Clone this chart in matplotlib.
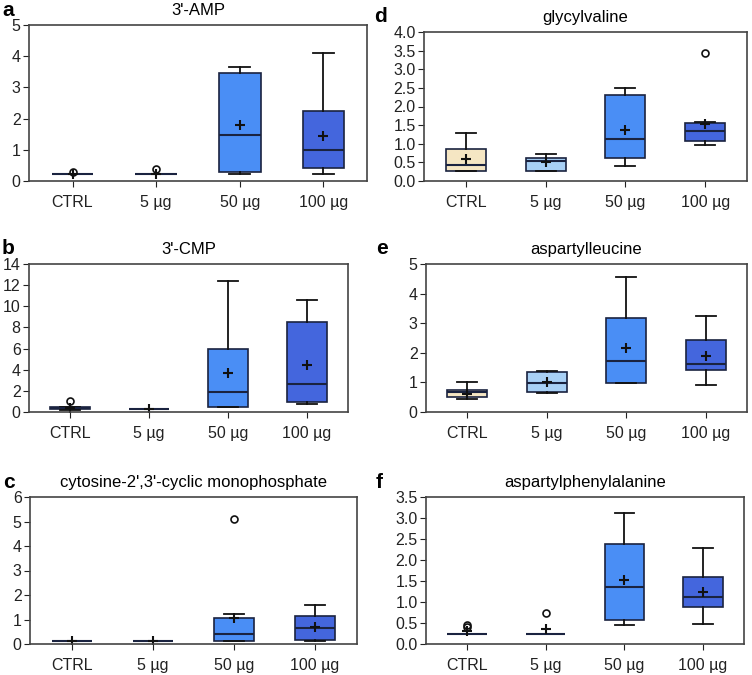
import matplotlib
matplotlib.use('Agg')
import matplotlib.pyplot as plt
import numpy as np

plt.rcParams.update({
    'font.family': ['Liberation Sans', 'DejaVu Sans'],
    'font.size': 11.5,
    'axes.edgecolor': '#444444',
    'axes.linewidth': 1.2,
    'xtick.major.size': 4,
    'ytick.major.size': 4,
    'xtick.color': '#222222',
    'ytick.color': '#222222',
})

groups = ['CTRL', '5 \u00b5g', '50 \u00b5g', '100 \u00b5g']
colors = ['#f5e6c3', '#a8d0f5', '#4a8ef5', '#4466dd']

# per group: whislo, q1, median, q3, whishi, mean
amp = [[0.22, 0.22, 0.22, 0.22, 0.22, 0.24],
       [0.22, 0.22, 0.22, 0.22, 0.22, 0.24],
       [0.22, 0.30, 1.48, 3.45, 3.65, 1.80],
       [0.22, 0.42, 1.00, 2.23, 4.10, 1.45]]
amp_fliers = [[0.29], [0.38], [], []]

cmp3 = [[0.22, 0.28, 0.35, 0.44, 0.45, 0.35],
        [0.25, 0.25, 0.25, 0.25, 0.25, 0.25],
        [0.44, 0.50, 1.89, 5.96, 12.37, 3.69],
        [0.76, 0.95, 2.62, 8.55, 10.57, 4.45]]
cmp3_fliers = [[1.07], [], [], []]

cyclic = [[0.12, 0.12, 0.12, 0.12, 0.12, 0.12],
          [0.12, 0.12, 0.12, 0.12, 0.12, 0.12],
          [0.12, 0.12, 0.41, 1.08, 1.23, 1.05],
          [0.12, 0.15, 0.64, 1.15, 1.60, 0.68]]
cyclic_fliers = [[], [], [5.12], []]

glyval = [[0.28, 0.28, 0.42, 0.85, 1.28, 0.60],
          [0.28, 0.28, 0.55, 0.62, 0.73, 0.50],
          [0.41, 0.62, 1.13, 2.32, 2.49, 1.38],
          [0.97, 1.08, 1.35, 1.57, 1.59, 1.53]]
glyval_fliers = [[], [], [], [3.43]]

aspleu = [[0.43, 0.52, 0.66, 0.74, 1.00, 0.62],
          [0.64, 0.68, 0.99, 1.34, 1.37, 1.00],
          [0.97, 0.97, 1.72, 3.19, 4.55, 2.17],
          [0.90, 1.42, 1.61, 2.44, 3.24, 1.89]]
aspleu_fliers = [[], [], [], []]

aspphe = [[0.25, 0.25, 0.25, 0.25, 0.25, 0.30],
          [0.25, 0.25, 0.25, 0.25, 0.25, 0.36],
          [0.46, 0.57, 1.36, 2.38, 3.13, 1.52],
          [0.47, 0.88, 1.11, 1.60, 2.29, 1.25]]
aspphe_fliers = [[0.45, 0.40], [0.75], [], []]

panels = [
    ('a', "3'-AMP", amp, amp_fliers, 5, 1, '%d', [29, 367, 25, 181]),
    ('b', "3'-CMP", cmp3, cmp3_fliers, 14, 2, '%d', [29, 348, 264, 412]),
    ('c', "cytosine-2',3'-cyclic monophosphate", cyclic, cyclic_fliers, 6, 1, '%d', [30, 357, 497, 644]),
    ('d', 'glycylvaline', glyval, glyval_fliers, 4, 0.5, '%.1f', [424, 747, 32, 181]),
    ('e', 'aspartylleucine', aspleu, aspleu_fliers, 5, 1, '%d', [426, 747, 264, 412]),
    ('f', 'aspartylphenylalanine', aspphe, aspphe_fliers, 3.5, 0.5, '%.1f', [426, 744, 497, 644]),
]

W, H = 752, 675
fig = plt.figure(figsize=(W / 100, H / 100), dpi=100)

for letter, title, stats, fliers, ymax, ystep, fmt, (x0, x1, y0, y1) in panels:
    ax = fig.add_axes([x0 / W, 1 - y1 / H, (x1 - x0) / W, (y1 - y0) / H])
    bstats = []
    for s, fl in zip(stats, fliers):
        bstats.append(dict(whislo=s[0], q1=s[1], med=s[2], q3=s[3],
                           whishi=s[4], mean=s[5], fliers=fl))
    bp = ax.bxp(bstats, positions=np.arange(1, 5), widths=0.5,
                showmeans=True, patch_artist=True, capwidths=0.25,
                boxprops=dict(edgecolor='#1a2340', linewidth=1.2),
                medianprops=dict(color='#1a2340', linewidth=1.5),
                whiskerprops=dict(color='#111111', linewidth=1.3),
                capprops=dict(color='#111111', linewidth=1.3),
                meanprops=dict(marker='+', markeredgecolor='#111111',
                               markersize=7, markeredgewidth=1.5),
                flierprops=dict(marker='o', markerfacecolor='none',
                                markeredgecolor='#111111', markersize=5,
                                markeredgewidth=1.2))
    for patch, c in zip(bp['boxes'], colors):
        patch.set_facecolor(c)

    ax.set_xlim(0.48, 4.52)
    ax.set_ylim(0, ymax)
    ax.set_yticks(np.arange(0, ymax + ystep / 2, ystep))
    ax.yaxis.set_major_formatter(matplotlib.ticker.FormatStrFormatter(fmt))
    ax.set_xticks(np.arange(1, 5))
    ax.set_xticklabels(groups)
    ax.tick_params(axis='y', pad=2)
    ax.tick_params(axis='x', pad=6)
    ax.set_title(title, fontsize=12, pad=7)
    fig.text((x0 - 27) / W if x0 < 100 else (x0 - 50) / W, 1 - (y0 - 15) / H, letter,
             fontsize=15, fontweight='bold', ha='left', va='center')

fig.savefig('out.png', dpi=100)
